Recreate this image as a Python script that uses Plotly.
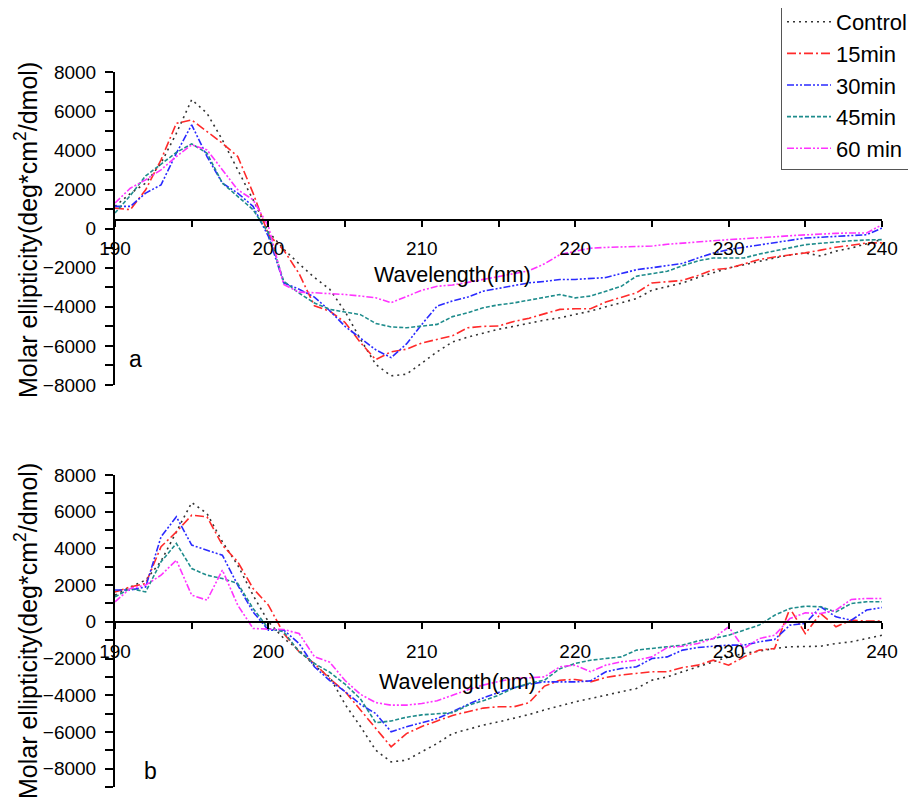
import plotly.graph_objects as go

wavelength = list(range(190, 241))
series_names = ["Control", "15min", "30min", "45min", "60 min"]

# Panel a values (deg*cm2/dmol), 190..240 nm
a_control = [1140, 1800, 2330, 3350, 4880, 6600, 5900, 4540, 3010, 1480,
             -150, -1050, -1800, -2500, -3100, -4250, -5660, -6950, -7530, -7450,
             -6880, -6300, -5800, -5550, -5350, -5150, -5000, -4830, -4680, -4560,
             -4400, -4220, -4000, -3790, -3580, -3150, -2950, -2780, -2500, -2250,
             -2010, -1850, -1670, -1500, -1350, -1240, -1400, -1150, -990, -780,
             -560]
a_15 = [1050, 970, 1990, 3520, 5390, 5560, 4970, 4370, 3690, 1820,
        -300, -1100, -2300, -3950, -4220, -4800, -5830, -6700, -6300, -6170,
        -5850, -5650, -5480, -5070, -5000, -4980, -4750, -4580, -4350, -4130,
        -4100, -4100, -3750, -3500, -3280, -2780, -2720, -2650, -2400, -2100,
        -2030, -1800, -1580, -1450, -1350, -1240, -1100, -950, -850, -730,
        -730]
a_30 = [1140, 1140, 1820, 2240, 3860, 5310, 3690, 2330, 1820, 1140,
        -400, -2770, -3100, -3500, -4200, -5000, -5600, -6200, -6600, -5900,
        -4900, -3960, -3700, -3500, -3200, -3050, -2900, -2770, -2700, -2600,
        -2600, -2550, -2500, -2300, -2100, -2000, -1880, -1780, -1500, -1250,
        -1070, -950, -820, -700, -580, -480, -440, -400, -370, -310,
        30]
a_45 = [800, 1700, 2700, 3300, 3900, 4340, 3860, 2330, 1650, 970,
        -220, -2690, -3300, -3800, -4130, -4250, -4400, -4850, -5030, -5070,
        -5000, -4900, -4500, -4300, -4050, -3900, -3800, -3650, -3500, -3370,
        -3540, -3450, -3200, -2950, -2430, -2300, -2180, -1900, -1650, -1500,
        -1500, -1500, -1300, -1150, -1000, -820, -750, -680, -620, -580,
        -560]
a_60 = [1310, 2070, 2500, 3010, 3690, 4290, 4030, 3010, 1990, 1480,
        120, -2860, -3250, -3280, -3320, -3370, -3450, -3540, -3790, -3450,
        -3150, -2950, -2880, -2750, -2600, -2450, -2300, -2150, -1800, -1330,
        -1160, -1000, -960, -930, -910, -890, -800, -730, -680, -620,
        -560, -520, -480, -420, -360, -310, -280, -240, -220, -220,
        200]

# Panel b values
b_control = [1450, 1900, 2270, 3300, 4900, 6500, 5900, 4360, 3090, 1450,
             0, -900, -1540, -2400, -3000, -4500, -5700, -7000, -7630, -7540,
             -7080, -6630, -6090, -5850, -5630, -5450, -5270, -5050, -4800, -4560,
             -4360, -4180, -4000, -3810, -3630, -3180, -3000, -2720, -2450, -2180,
             -1910, -1730, -1580, -1450, -1360, -1330, -1330, -1180, -1090, -910,
             -730]
b_15 = [1630, 1900, 2090, 4090, 4900, 5810, 5720, 4180, 3270, 1820,
        910, -640, -1630, -2270, -3100, -3800, -4800, -5800, -6810, -6090,
        -5700, -5400, -5100, -4900, -4700, -4630, -4630, -4400, -3500, -3180,
        -3140, -3270, -3030, -2900, -2820, -2720, -2720, -2490, -2360, -2090,
        -2360, -1910, -1540, -1450, 730, -640, 450, -270, 90, 40,
        40]
b_30 = [1730, 1730, 1900, 4630, 5720, 4180, 3900, 3630, 2000, 540,
        -450, -450, -1180, -2450, -3200, -3800, -4500, -5000, -5990, -5720,
        -5500, -5270, -4900, -4500, -4150, -3850, -3600, -3400, -3270, -3270,
        -3270, -3220, -2720, -2540, -2450, -2000, -1910, -1540, -1400, -1330,
        -1270, -1270, -1090, -960, -180, -90, 820, 270, 90, 640,
        780]
b_45 = [1360, 1820, 1630, 3270, 4270, 2900, 2540, 2360, 2090, 730,
        -360, -540, -1630, -2270, -2750, -3400, -4200, -5500, -5400, -5200,
        -5070, -5030, -4950, -4550, -4300, -4000, -3600, -3350, -3180, -2550,
        -2270, -2090, -2000, -1910, -1540, -1450, -1400, -1270, -1040, -910,
        -730, -450, -180, 360, 730, 850, 820, 540, 1000, 1090,
        1090]
b_60 = [1090, 1820, 2000, 2540, 3360, 1450, 1180, 2820, 910, -360,
        -400, -420, -640, -1900, -2200, -3200, -3950, -4400, -4540, -4540,
        -4450, -4300, -4000, -3700, -3450, -3250, -3100, -3050, -3000, -2450,
        -2360, -2720, -2360, -2180, -2090, -1910, -1400, -1330, -1180, -910,
        -270, -1450, -910, -730, 180, 490, 450, 640, 1220, 1270,
        1270]

panel_a = [a_control, a_15, a_30, a_45, a_60]
panel_b = [b_control, b_15, b_30, b_45, b_60]

colors = ["#333333", "#FF2A2A", "#2A2AFF", "#1E8C8C", "#FF33FF"]
dashes = ["2px,4px", "9px,3px,2px,3px", "7px,2px,2px,2px,2px,2px",
          "4px,2px", "7px,2px,2px,2px,2px,2px"]

# the page places the figure 8px from the top-left corner (body margin)
OFF = 8
W, H = 916 - OFF, 801 - OFF
ML, MR, MT, MB = 115 - OFF, 34, 0, 0
PW = W - ML - MR
PH = H - MT - MB


def py(page_y):
    return 1 - (page_y - OFF - MT) / PH


def pxx(page_x):
    return (page_x - OFF - ML) / PW


a_dom = [py(385), py(72.3)]
b_dom = [py(787), py(475)]
a_range = [-8000, 8000]
b_range = [-9000, 8000]
a_cross = 460
b_cross = 0
a_pos = a_dom[0] + (a_cross - a_range[0]) / (a_range[1] - a_range[0]) * (a_dom[1] - a_dom[0])
b_pos = b_dom[0] + (b_cross - b_range[0]) / (b_range[1] - b_range[0]) * (b_dom[1] - b_dom[0])

FONT = "Arial, Liberation Sans, sans-serif"

fig = go.Figure()
for i, name in enumerate(series_names):
    fig.add_trace(go.Scatter(x=wavelength, y=panel_a[i], mode="lines", name=name,
                             line=dict(color=colors[i], dash=dashes[i], width=1.6),
                             xaxis="x", yaxis="y", legendgroup=name))
for i, name in enumerate(series_names):
    fig.add_trace(go.Scatter(x=wavelength, y=panel_b[i], mode="lines", name=name,
                             line=dict(color=colors[i], dash=dashes[i], width=1.6),
                             xaxis="x2", yaxis="y2", legendgroup=name, showlegend=False))

xcommon = dict(range=[190, 240], dtick=10, tick0=190, ticks="outside", ticklen=6,
               tickwidth=1.5, tickcolor="black", showline=True, linecolor="black",
               linewidth=2, showgrid=False, zeroline=False, ticklabelstandoff=6,
               tickfont=dict(family=FONT, size=19, color="black"),
               minor=dict(dtick=5, ticks="outside", ticklen=6, tickwidth=1.5,
                          tickcolor="black", showgrid=False),
               domain=[0, 1], anchor="free")
ycommon = dict(dtick=2000, ticks="outside", ticklen=8, tickwidth=1.5,
               tickcolor="black", showline=True, linecolor="black", linewidth=2,
               showgrid=False, zeroline=False, ticklabelstandoff=5,
               tickfont=dict(family=FONT, size=19, color="black"),
               minor=dict(dtick=1000, ticks="outside", ticklen=8, tickwidth=1.5,
                          tickcolor="black", showgrid=False))

fig.update_layout(
    width=W, height=H,
    margin=dict(l=ML, r=MR, t=MT, b=MB, autoexpand=False),
    paper_bgcolor="white", plot_bgcolor="white",
    xaxis=dict(**xcommon, position=a_pos),
    xaxis2=dict(**xcommon, position=b_pos),
    yaxis=dict(**ycommon, range=a_range, domain=a_dom, anchor="x"),
    yaxis2=dict(**ycommon, range=b_range, domain=b_dom, anchor="x2"),
    showlegend=True,
    legend=dict(x=pxx(781), y=py(0), xanchor="left", yanchor="top",
                font=dict(family=FONT, size=22, color="black"),
                bordercolor="#555555", borderwidth=1, bgcolor="white",
                tracegroupgap=0, itemwidth=44),
)

ann = []
ytitle = "Molar ellipticity(deg*cm<sup>2</sup>/dmol)"
for (xt, yt, ty, lx, ly, letter) in [(452, 275, 230, 135, 359, "a"),
                                      (457, 682, 631, 150, 771, "b")]:
    ann.append(dict(text="Wavelength(nm)", x=pxx(xt), y=py(yt), xref="paper", yref="paper",
                    showarrow=False, font=dict(family=FONT, size=21.5, color="black"),
                    xanchor="center", yanchor="middle"))
    ann.append(dict(text=ytitle, x=pxx(26), y=py(ty), xref="paper", yref="paper",
                    showarrow=False, textangle=-90,
                    font=dict(family=FONT, size=25, color="black"),
                    xanchor="center", yanchor="middle"))
    ann.append(dict(text=letter, x=pxx(lx), y=py(ly), xref="paper", yref="paper",
                    showarrow=False, font=dict(family=FONT, size=23, color="black"),
                    xanchor="center", yanchor="middle"))
fig.update_layout(annotations=ann)

fig.write_html("out.html")
